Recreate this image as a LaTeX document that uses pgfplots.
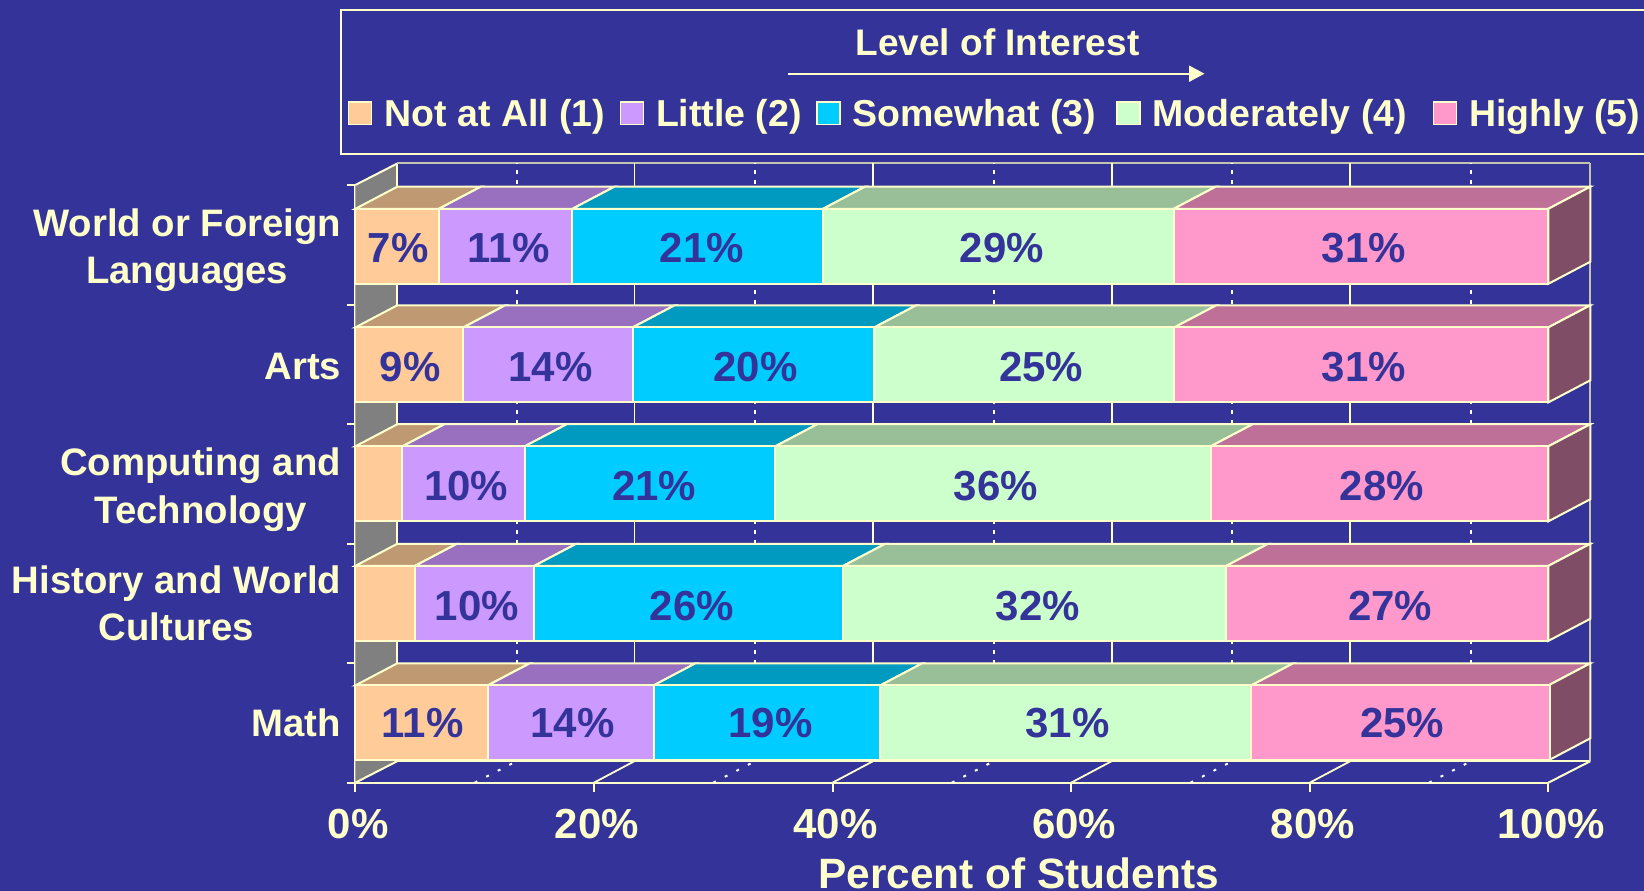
\documentclass[border=0pt]{standalone}
\usepackage{fontspec}
\setmainfont{Liberation Sans}
\usepackage{pgfplots}
\usepackage{pgfplotstable}
\pgfplotsset{compat=1.18}
\usetikzlibrary{arrows.meta}

\definecolor{bg}{HTML}{333399}
\definecolor{cream}{HTML}{FFFFCC}
\definecolor{peach}{HTML}{FFCC99}
\definecolor{lilac}{HTML}{CC99FF}
\definecolor{sky}{HTML}{00CCFF}
\definecolor{mint}{HTML}{CCFFCC}
\definecolor{rose}{HTML}{FF99CC}
\definecolor{peachtop}{HTML}{BF9972}
\definecolor{lilactop}{HTML}{9970BF}
\definecolor{skytop}{HTML}{0099BF}
\definecolor{minttop}{HTML}{99BF99}
\definecolor{rosetop}{HTML}{BF7099}
\definecolor{roseside}{HTML}{804D66}
\definecolor{wall}{HTML}{808080}
\definecolor{edge}{HTML}{C4C4AE}

% widths, top row first
\pgfplotstableread{
y    a    b     c    d    e
4.487 7.0  11.2  21.0 29.4 31.4
3.495 9.05 14.2 20.25 25.15 31.35
2.50 3.95 10.25 21.0 36.5 28.3
1.50 5.0  10.0  25.9 32.1 27.0
0.50 11.1 13.9  19.0 31.1 25.0
}\shares

\pgfplotsset{
  frontplane/.style={
    at={(355.3pt,-782.7pt)}, anchor=south west,
    width=1193pt, height=597.7pt, scale only axis,
    xmin=0, xmax=100, ymin=0, ymax=5, clip=false,
  },
}

% parallelogram on top of one segment
\newcommand{\topface}[3]{%
  \pgfmathsetmacro\fa{#1+3.52}\pgfmathsetmacro\fb{#2+3.52}%
  \edef\temp{\noexpand\addplot[fill=#3,draw=cream,line width=2pt]
    coordinates {(#1,\yf) (\fa,\yb) (\fb,\yb) (#2,\yf)} -- cycle;}\temp}

\begin{document}
\begin{tikzpicture}
\fill[bg,use as bounding box] (0pt,0pt) rectangle (1644pt,-891pt);

% legend frame, runs off the right edge
\draw[cream,line width=2pt] (1660pt,-10pt) -- (340.5pt,-10pt) -- (340.5pt,-154pt) -- (1660pt,-154pt);
\node[cream,font=\fontsize{37}{40}\selectfont\bfseries,anchor=base] at (997.5pt,-56pt) {Level of Interest};
\draw[cream,line width=2pt,-{Triangle[length=15.5pt,width=16pt]}] (788pt,-73.7pt) -- (1204.5pt,-73.7pt);

% walls, grid, ticks and top faces
\begin{axis}[frontplane,
  axis lines=left,
  axis line style={cream,line width=2pt,-},
  tick align=outside,
  major tick length=9pt, minor tick length=8.5pt,
  tick style={cream,line width=2pt},
  major y tick style={draw=none},
  xtick={0,20,40,60,80,100},
  xticklabels={0\%,20\%,40\%,60\%,80\%,100\%},
  ytick={0.5,1.5,2.454,3.482,4.456},
  minor ytick={0,1,2,3,4,5},
  yticklabels={Math,{History and World\\Cultures},{Computing and\\Technology},Arts,{World or Foreign\\Languages}},
  x tick label style={text=cream,font=\fontsize{42}{44}\selectfont\bfseries,inner sep=0pt,yshift=-17.5pt,xshift=3pt},
  y tick label style={text=cream,font=\fontsize{38.3}{47.7}\selectfont\bfseries,align=center,anchor=east,inner sep=0pt,xshift=-5pt},
  xlabel={Percent of Students},
  xlabel style={at={(axis description cs:0.556,0)},anchor=base,text=cream,font=\fontsize{42.4}{44}\selectfont\bfseries,yshift=-106pt},
]
\addplot[fill=wall,draw=none] coordinates {(0,0) (3.52,0.18) (3.52,5.18) (0,5)} -- cycle;
\addplot[cream,line width=2pt] coordinates {(0,5) (3.52,5.18)};
\addplot[cream,line width=2pt] coordinates {(0,0) (3.52,0.18)};
\addplot[cream,line width=2pt] coordinates {(3.52,0.18) (3.52,5.18)};
\addplot[edge,line width=2pt] coordinates {(3.52,5.18) (103.52,5.18)};
\addplot[cream,line width=2pt] coordinates {(3.52,0.18) (103.52,0.18)};
\addplot[edge,line width=2pt] coordinates {(103.52,0.18) (103.52,5.18)};
\pgfplotsinvokeforeach{20,40,60,80}{
  \pgfmathsetmacro\bk{#1+3.4}
  \edef\temp{\noexpand\addplot[cream,line width=1.8pt] coordinates {(\bk,0.18) (\bk,5.18)};
    \noexpand\addplot[cream,line width=1.8pt] coordinates {(#1,0) (\bk,0.18)};}\temp
}
\addplot[cream,line width=2pt] coordinates {(100,0) (103.52,0.18)};
\pgfplotsinvokeforeach{10,30,50,70,90}{
  \pgfmathsetmacro\bk{#1+3.52}
  \edef\temp{\noexpand\addplot[white,line width=2pt,dash pattern=on 4pt off 6pt,dash phase=3.3pt] coordinates {(\bk,5.18) (\bk,0.18)};
    \noexpand\addplot[white,line width=2pt,dash pattern=on 3pt off 10pt] coordinates {(#1,0) (\bk,0.18)};}\temp
}
\pgfplotsinvokeforeach{0,1,2,3,4}{
  \pgfplotstablegetelem{#1}{y}\of\shares \pgfmathsetmacro\yf{\pgfplotsretval+0.3137}
  \pgfmathsetmacro\yb{\yf+0.185}
  \pgfplotstablegetelem{#1}{a}\of\shares \pgfmathsetmacro\ca{\pgfplotsretval}
  \pgfplotstablegetelem{#1}{b}\of\shares \pgfmathsetmacro\cb{\ca+\pgfplotsretval}
  \pgfplotstablegetelem{#1}{c}\of\shares \pgfmathsetmacro\cc{\cb+\pgfplotsretval}
  \pgfplotstablegetelem{#1}{d}\of\shares \pgfmathsetmacro\cd{\cc+\pgfplotsretval}
  \topface{0}{\ca}{peachtop}
  \topface{\ca}{\cb}{lilactop}
  \topface{\cb}{\cc}{skytop}
  \topface{\cc}{\cd}{minttop}
  \topface{\cd}{100}{rosetop}
  \pgfmathsetmacro\yfl{\yf-0.6274}\pgfmathsetmacro\ybl{\yb-0.6274}
  \edef\temp{\noexpand\addplot[fill=roseside,draw=cream,line width=2pt]
    coordinates {(100,\yf) (103.52,\yb) (103.52,\ybl) (100,\yfl)} -- cycle;}\temp
}
\end{axis}

% front faces and the legend
\begin{axis}[frontplane,
  hide axis,
  xbar stacked,
  bar width=75pt,
  legend columns=5,
  legend cell align=left,
  legend image code/.code={\draw[#1,line width=1.5pt] (0pt,-10.4pt) rectangle (23pt,12.1pt);},
  legend style={at={(-0.0089,1.1187)},anchor=west,draw=none,fill=none,text=cream,
    font=\fontsize{37.5}{39}\selectfont\bfseries,
    /tikz/column 1/.style={column sep=10pt},
    /tikz/column 3/.style={column sep=10pt},
    /tikz/column 5/.style={column sep=10pt},
    /tikz/column 7/.style={column sep=10pt},
    /tikz/column 9/.style={column sep=10pt},
    /tikz/column 2/.style={column sep=12.3pt},
    /tikz/column 4/.style={column sep=12.2pt},
    /tikz/column 6/.style={column sep=17.9pt},
    /tikz/column 8/.style={column sep=23.8pt}},
]
\addplot[fill=peach,draw=cream,line width=2pt] table[x=a,y=y] {\shares};
\addplot[fill=lilac,draw=cream,line width=2pt] table[x=b,y=y] {\shares};
\addplot[fill=sky,draw=cream,line width=2pt] table[x=c,y=y] {\shares};
\addplot[fill=mint,draw=cream,line width=2pt] table[x=d,y=y] {\shares};
\addplot[fill=rose,draw=cream,line width=2pt] table[x=e,y=y] {\shares};
\legend{Not at All (1),Little (2),Somewhat (3),Moderately (4),Highly (5)}
\end{axis}

% printed percentages, centred on their segments
\begin{axis}[frontplane,hide axis]
\addplot[only marks,mark size=0pt,point meta=explicit symbolic,
  nodes near coords={\pgfplotspointmeta\%},
  every node near coord/.append style={anchor=center,inner sep=0pt,text=bg,font=\fontsize{42}{44}\selectfont\bfseries}]
coordinates {
  (3.6,4.473) [7] (12.85,4.473) [11] (29.05,4.473) [21] (54.2,4.473) [29] (84.55,4.473) [31]
  (4.6,3.478) [9] (16.35,3.478) [14] (33.55,3.478) [20] (57.5,3.478) [25] (84.55,3.478) [31]
  (9.3,2.483) [10] (25.05,2.483) [21] (53.7,2.483) [36] (86.05,2.483) [28]
  (10.2,1.475) [10] (28.2,1.475) [26] (57.2,1.475) [32] (86.75,1.475) [27]
  (5.65,0.50) [11] (18.2,0.50) [14] (34.8,0.50) [19] (59.7,0.50) [31] (87.75,0.50) [25]
};
\end{axis}
\end{tikzpicture}
\end{document}
